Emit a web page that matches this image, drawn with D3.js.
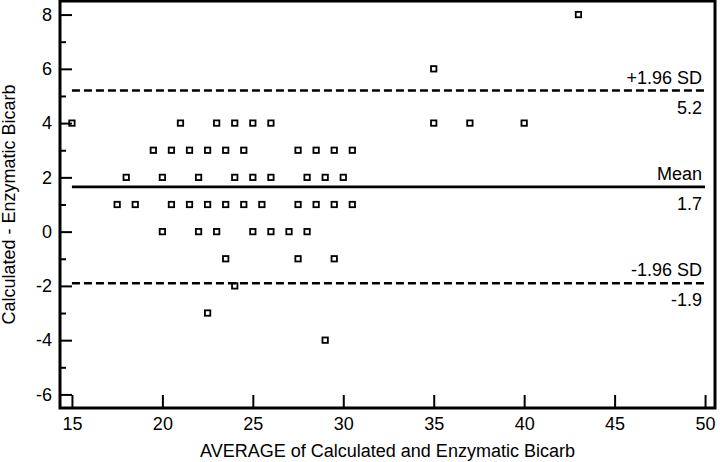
<!DOCTYPE html>
<html lang="en">
<head>
  <meta charset="UTF-8">
  <title>Bland-Altman Bicarb</title>
  <script src="https://d3js.org/d3.v7.min.js"></script>
  <style>
    body { margin: 0; background: #fff; font-family: "Liberation Sans", Arial, sans-serif; }
    #chart svg { display: block; }
    .axis text { font-size: 18px; font-family: "Liberation Sans", Arial, sans-serif; fill: #000; }
  </style>
</head>
<body>
  <div id="chart"></div>

  <script>
    // averages (x) and differences (y)
    const avgValues = [
      43,
      35,
      15, 21, 23, 24, 25, 26, 35, 37, 40,
      19.5, 20.5, 21.5, 22.5, 23.5, 24.5, 27.5, 28.5, 29.5, 30.5,
      18, 20, 22, 24, 25, 26, 28, 29, 30,
      17.5, 18.5, 20.5, 21.5, 22.5, 23.5, 24.5, 25.5, 27.5, 28.5, 29.5, 30.5,
      20, 22, 23, 25, 26, 27, 28,
      23.5, 27.5, 29.5,
      24,
      22.5,
      29
    ];
    const diffValues = [
      8,
      6,
      4, 4, 4, 4, 4, 4, 4, 4, 4,
      3, 3, 3, 3, 3, 3, 3, 3, 3, 3,
      2, 2, 2, 2, 2, 2, 2, 2, 2,
      1, 1, 1, 1, 1, 1, 1, 1, 1, 1, 1, 1,
      0, 0, 0, 0, 0, 0, 0,
      -1, -1, -1,
      -2,
      -3,
      -4
    ];
    const xTicks = [15, 20, 25, 30, 35, 40, 45, 50];
    const yTicks = [-6, -4, -2, 0, 2, 4, 6, 8];
    const yMinorTicks = [-5, -3, -1, 1, 3, 5, 7];

    const lineValues = [5.2, 1.65, -1.9];
    const lineNames = ["+1.96 SD", "Mean", "-1.96 SD"];
    const lineValueLabels = ["5.2", "1.7", "-1.9"];
    const lineDashed = [true, false, true];

    const width = 720, height = 462;
    const mLeft = 60, mRight = 715, mTop = 1, mBottom = 408;

    const svg = d3.select("#chart").append("svg")
                  .attr("width", width)
                  .attr("height", height);

    const x = d3.scaleLinear().domain([14.34, 50.55]).range([mLeft, mRight]);
    const y = d3.scaleLinear().domain([-6.5, 8.5]).range([mBottom, mTop]);

    // plain hyphen for negatives, like the original
    const fmt = d => String(d);

    // minor y ticks
    svg.append("g")
       .attr("class", "axis")
       .attr("transform", `translate(${mLeft},0)`)
       .call(d3.axisLeft(y).tickValues(yMinorTicks).tickSize(-6).tickFormat(""))
       .call(g => g.select(".domain").remove())
       .call(g => g.selectAll("line").attr("stroke", "#000").attr("stroke-width", 2));

    svg.append("g")
       .attr("class", "axis")
       .attr("transform", `translate(${mLeft},0)`)
       .call(d3.axisLeft(y).tickValues(yTicks).tickSize(-12).tickPadding(8).tickFormat(fmt))
       .call(g => g.select(".domain").remove())
       .call(g => g.selectAll("line").attr("stroke", "#000").attr("stroke-width", 2));

    svg.append("g")
       .attr("class", "axis")
       .attr("transform", `translate(0,${mBottom})`)
       .call(d3.axisBottom(x).tickValues(xTicks).tickSize(-13).tickPadding(9).tickFormat(fmt))
       .call(g => g.select(".domain").remove())
       .call(g => g.selectAll("line").attr("stroke", "#000").attr("stroke-width", 2));

    // frame
    svg.append("rect")
       .attr("x", mLeft).attr("y", mTop)
       .attr("width", mRight - mLeft).attr("height", mBottom - mTop)
       .attr("fill", "none")
       .attr("stroke", "#000")
       .attr("stroke-width", 3);

    // mean and limits of agreement
    lineValues.forEach((v, i) => {
      svg.append("line")
         .attr("x1", x(15)).attr("x2", x(50))
         .attr("y1", y(v)).attr("y2", y(v))
         .attr("stroke", "#000")
         .attr("stroke-width", 2.6)
         .attr("stroke-dasharray", lineDashed[i] ? "8,4" : null);
      svg.append("text")
         .attr("x", x(50) - 3).attr("y", y(v) - 7)
         .attr("text-anchor", "end")
         .attr("font-size", 18)
         .text(lineNames[i]);
      svg.append("text")
         .attr("x", x(50) - 3).attr("y", y(v) + 23)
         .attr("text-anchor", "end")
         .attr("font-size", 18)
         .text(lineValueLabels[i]);
    });

    const pts = avgValues.map((a, i) => ({ avg: a, diff: diffValues[i] }));
    const s = 5.4;
    svg.append("g").selectAll("rect")
       .data(pts)
       .join("rect")
       .attr("x", d => x(d.avg) - s / 2)
       .attr("y", d => y(d.diff) - s / 2)
       .attr("width", s).attr("height", s)
       .attr("fill", "none")
       .attr("stroke", "#000")
       .attr("stroke-width", 1.8);

    svg.append("text")
       .attr("x", (mLeft + mRight) / 2).attr("y", 457)
       .attr("text-anchor", "middle")
       .attr("font-size", 18)
       .text("AVERAGE of Calculated and Enzymatic Bicarb");

    svg.append("text")
       .attr("transform", `translate(15,${(mTop + mBottom) / 2}) rotate(-90)`)
       .attr("text-anchor", "middle")
       .attr("font-size", 18)
       .text("Calculated - Enzymatic Bicarb");
  </script>
</body>
</html>
